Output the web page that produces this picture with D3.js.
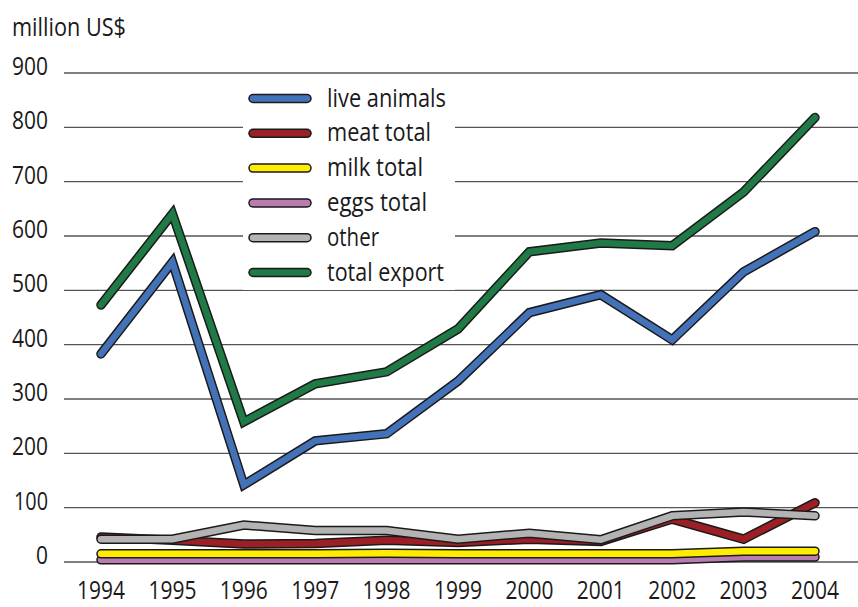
<!DOCTYPE html>
<html>
<head>
<meta charset="utf-8">
<script src="https://cdn.jsdelivr.net/npm/d3@7"></script>
<style>
  html, body { margin: 0; padding: 0; background: #fff; overflow: hidden; }
  svg text { font-family: "Open Sans", "DejaVu Sans Condensed", sans-serif; fill: #1a1a1a; }
</style>
</head>
<body>
<svg id="chart" width="858" height="607"></svg>
<script>
// Agricultural exports, million US$
const years = [1994, 1995, 1996, 1997, 1998, 1999, 2000, 2001, 2002, 2003, 2004];
const liveAnimals = [383, 552, 142, 223, 236, 333, 459, 492, 409, 534, 608];
const meatTotal   = [46, 40, 33, 34, 40, 36, 42, 38, 79, 42, 109];
const milkTotal   = [15, 15, 15, 15, 16, 15, 15, 15, 15, 20, 20];
const eggsTotal   = [4, 4, 4, 4, 4, 4, 4, 4, 4, 9, 9];
const other       = [42, 42, 68, 58, 58, 42, 53, 41, 85, 92, 85];
const totalExport = [473, 641, 258, 328, 350, 429, 571, 587, 582, 681, 818];
const yTicks = [0, 100, 200, 300, 400, 500, 600, 700, 800, 900];

const seriesNames  = ["live animals", "meat total", "milk total", "eggs total", "other", "total export"];
const seriesValues = [liveAnimals, meatTotal, milkTotal, eggsTotal, other, totalExport];
const seriesColors = ["#4472b9", "#9c1f25", "#ffec00", "#b97cb0", "#b3b3b3", "#1f7a45"];
// paint order: bottom lines first
const drawOrder = [3, 2, 1, 4, 0, 5];

// condensed type: fixed rendered widths for the label runs
const legendWidths = [119, 104, 96, 100, 52, 117];
const FS = 25;

const svg = d3.select("#chart");

const x = d3.scalePoint().domain(years).range([101, 815]);
const y = d3.scaleLinear().domain([0, 900]).range([562, 73]);

// gridlines
svg.append("g")
  .selectAll("line")
  .data(yTicks)
  .join("line")
  .attr("x1", 64).attr("x2", 858)
  .attr("y1", d => y(d)).attr("y2", d => y(d))
  .attr("stroke", "#555")
  .attr("stroke-width", 1.4);

// y tick labels, right-aligned
svg.append("g")
  .selectAll("text")
  .data(yTicks)
  .join("text")
  .attr("x", 48)
  .attr("y", d => y(d) + 2)
  .attr("text-anchor", "end")
  .attr("font-size", FS)
  .attr("lengthAdjust", "spacingAndGlyphs")
  .attr("textLength", d => d === 0 ? 12 : (d === 100 ? 34 : 36))
  .text(d => d);

// axis title
svg.append("text")
  .attr("x", 12).attr("y", 36)
  .attr("font-size", FS)
  .attr("lengthAdjust", "spacingAndGlyphs")
  .attr("textLength", 114)
  .text("million US$");

// x tick labels
svg.append("g")
  .selectAll("text")
  .data(years)
  .join("text")
  .attr("x", d => x(d))
  .attr("y", 599)
  .attr("text-anchor", "middle")
  .attr("font-size", FS)
  .attr("lengthAdjust", "spacingAndGlyphs")
  .attr("textLength", 48)
  .text(d => d);

const line = d3.line()
  .x((d, i) => x(years[i]))
  .y(d => y(d));

drawOrder.forEach(k => {
  const g = svg.append("g");
  g.append("path")
    .attr("d", line(seriesValues[k]))
    .attr("fill", "none")
    .attr("stroke", "#1a1a1a")
    .attr("stroke-width", 9.5)
    .attr("stroke-linecap", "round")
    .attr("stroke-linejoin", "miter");
  g.append("path")
    .attr("d", line(seriesValues[k]))
    .attr("fill", "none")
    .attr("stroke", seriesColors[k])
    .attr("stroke-width", 6.5)
    .attr("stroke-linecap", "round")
    .attr("stroke-linejoin", "miter");
});

// legend
const legend = svg.append("g");
legend.append("rect")
  .attr("x", 243).attr("y", 80)
  .attr("width", 212).attr("height", 210)
  .attr("fill", "#fff");

const rowY = i => 98.5 + i * 34.8;
seriesNames.forEach((name, i) => {
  legend.append("line")
    .attr("x1", 253).attr("x2", 307)
    .attr("y1", rowY(i)).attr("y2", rowY(i))
    .attr("stroke", "#1a1a1a").attr("stroke-width", 9.5)
    .attr("stroke-linecap", "round");
  legend.append("line")
    .attr("x1", 253).attr("x2", 307)
    .attr("y1", rowY(i)).attr("y2", rowY(i))
    .attr("stroke", seriesColors[i]).attr("stroke-width", 6.5)
    .attr("stroke-linecap", "round");
  legend.append("text")
    .attr("x", 327).attr("y", rowY(i) + 8)
    .attr("font-size", FS)
    .attr("lengthAdjust", "spacingAndGlyphs")
    .attr("textLength", legendWidths[i])
    .text(name);
});
</script>
</body>
</html>
